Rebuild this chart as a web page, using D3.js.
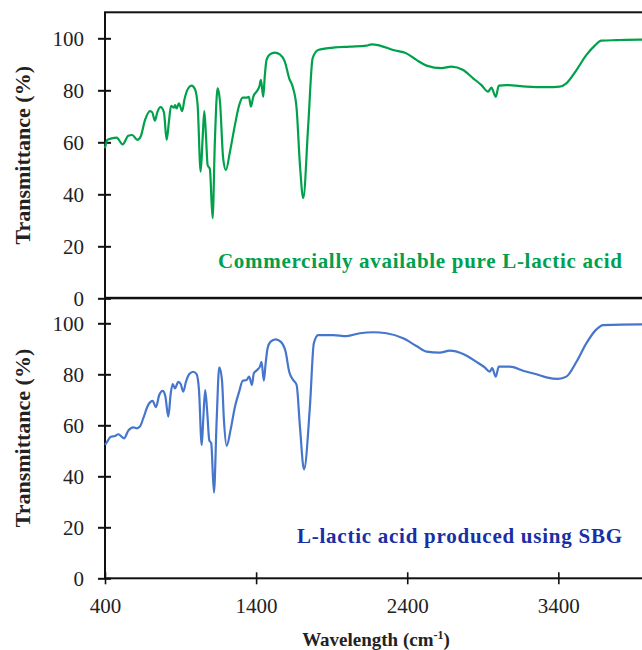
<!DOCTYPE html>
<html>
<head>
<meta charset="utf-8">
<script src="https://cdn.jsdelivr.net/npm/d3@7"></script>
<style>
body { margin: 0; background: #fff; }
svg { display: block; font-family: "Liberation Serif", "Times New Roman", serif; }
</style>
</head>
<body>
<svg width="642" height="650"></svg>
<script>
// FTIR spectra, wavenumber (cm-1) vs transmittance (%)
var wnTop = [400, 415, 444, 477, 517, 554, 580, 614, 636, 665, 698, 713, 730, 746, 768, 790, 808, 823, 837, 856, 863, 874, 889, 911, 925, 951, 973, 995, 1013, 1033, 1046, 1057, 1068, 1079, 1094, 1112, 1127, 1145, 1161, 1182, 1200, 1227, 1260, 1288, 1311, 1337, 1352, 1366, 1381, 1403, 1421, 1432, 1447, 1458, 1469, 1491, 1524, 1557, 1590, 1619, 1645, 1668, 1690, 1712, 1745, 1774, 1811, 1910, 2020, 2131, 2164, 2219, 2307, 2395, 2461, 2528, 2627, 2693, 2770, 2836, 2891, 2935, 2957, 2986, 3006, 3057, 3189, 3321, 3409, 3453, 3520, 3586, 3641, 3685, 3784, 3938, 4000]
var tTop = [57.7, 60.9, 61.5, 61.8, 59.2, 62.5, 62.8, 60.9, 62.2, 68.6, 72, 71.5, 68.3, 71.5, 73.5, 71.5, 60.9, 67.9, 74, 73.3, 74.3, 73, 75, 72, 76.3, 80.8, 81.8, 80.5, 74.3, 48.7, 61.5, 72, 62.8, 51.3, 49.7, 30.8, 60.2, 80.8, 75.6, 53.8, 49.3, 56.4, 66.7, 74.3, 77.2, 77.2, 77.5, 73.7, 77.5, 79.5, 81.4, 84, 77.5, 85.9, 91.7, 93.8, 94.5, 93.8, 91, 84.6, 80.8, 73, 51.3, 38.5, 66.7, 92.3, 95.5, 96.4, 96.8, 97.2, 97.7, 97.2, 95.5, 94.2, 91.7, 89.5, 88.5, 89.1, 87.8, 84.6, 82, 79.5, 81, 77.5, 81.8, 82, 81.4, 81.2, 81.4, 82.7, 87.8, 93.6, 97.2, 99.1, 99.3, 99.5, 99.5]

var wnBottom = [400, 415, 438, 466, 488, 526, 554, 587, 610, 631, 653, 686, 715, 737, 759, 782, 799, 819, 835, 848, 863, 885, 901, 918, 936, 958, 984, 1006, 1022, 1040, 1050, 1063, 1077, 1090, 1103, 1121, 1139, 1156, 1174, 1187, 1205, 1231, 1260, 1288, 1311, 1337, 1354, 1372, 1385, 1407, 1425, 1436, 1451, 1463, 1476, 1496, 1529, 1562, 1595, 1619, 1645, 1668, 1690, 1717, 1756, 1782, 1811, 1910, 1998, 2087, 2175, 2263, 2373, 2461, 2528, 2616, 2682, 2770, 2858, 2913, 2946, 2962, 2986, 3006, 3079, 3167, 3255, 3321, 3398, 3453, 3520, 3586, 3652, 3696, 3938, 4000]
var tBottom = [52.3, 53.6, 55.5, 55.8, 56.5, 54.9, 57.9, 59.2, 58.8, 59.5, 62.7, 68, 69.6, 67.1, 71.9, 73.5, 71.5, 63.4, 72.5, 76.2, 74.5, 77, 76.2, 73.2, 77.1, 80.1, 81, 80.1, 73.8, 52.3, 62.1, 73.8, 64.7, 54.2, 52.9, 33.6, 62.1, 82.7, 77.8, 62.1, 51.9, 58.2, 67.3, 73.2, 77.5, 77.8, 79.1, 75.8, 80.4, 81.7, 83, 84.9, 77.5, 84.3, 90.2, 92.8, 93.7, 92.8, 88.9, 81, 77.8, 75.8, 59.5, 42.7, 67.3, 92.2, 95.4, 95.4, 95, 96.1, 96.5, 96.1, 94.1, 91.1, 88.9, 88.5, 89.3, 88, 84.9, 82.7, 81, 82.4, 79.1, 83, 83, 81.4, 80, 78.8, 78.2, 79.1, 84.9, 92.2, 97.6, 99.3, 99.6, 99.6]

var yTicks = [0, 20, 40, 60, 80, 100]
var xTicks = [400, 1400, 2400, 3400]

var svg = d3.select("svg")

var x = d3.scaleLinear().domain([400, 4000]).range([105, 649])

var panels = [
  {wn: wnTop, t: tTop, y0: 298.3, y1: 12.3, color: "#00a14b", label: "Commercially available pure L-lactic acid", labelColor: "#00a04e", labelY: 268, labelW: 404},
  {wn: wnBottom, t: tBottom, y0: 578.3, y1: 297.8, color: "#4576cc", label: "L-lactic acid produced using SBG", labelColor: "#1a2ea6", labelY: 543, labelW: 325}
]

panels.forEach(function(p, i){
  var y = d3.scaleLinear().domain([0, 110]).range([p.y0, p.y1])
  var g = svg.append("g")

  // frame
  g.append("rect")
    .attr("x", x(400)).attr("y", y(110))
    .attr("width", x(4000) - x(400)).attr("height", y(0) - y(110))
    .attr("fill", "none").attr("stroke", "#111").attr("stroke-width", 2)

  var yAxis = d3.axisLeft(y).tickValues(yTicks).tickSize(7).tickPadding(14)
  var yg = g.append("g").attr("transform", "translate(" + x(400) + ",0)").call(yAxis)
  yg.select(".domain").remove()
  yg.selectAll(".tick line").attr("x1", 6).attr("stroke", "#111").attr("stroke-width", 2)
  yg.selectAll(".tick text").attr("font-size", 21).attr("fill", "#222").attr("font-family", "Liberation Serif")

  if (i == 1) {
    var xAxis = d3.axisBottom(x).tickValues(xTicks).tickSize(6).tickPadding(14).tickFormat(d3.format("d"))
    var xg = g.append("g").attr("transform", "translate(0," + y(0) + ")").call(xAxis)
    xg.select(".domain").remove()
    xg.selectAll(".tick line").attr("y1", -6).attr("stroke", "#111").attr("stroke-width", 1.6)
    xg.selectAll(".tick text").attr("font-size", 21).attr("fill", "#222").attr("font-family", "Liberation Serif")
  }

  var line = d3.line()
    .x(function(d, k){ return x(p.wn[k]) })
    .y(function(d){ return y(d) })
    .curve(d3.curveMonotoneX)

  g.append("path")
    .datum(p.t)
    .attr("d", line)
    .attr("fill", "none")
    .attr("stroke", p.color)
    .attr("stroke-width", 2.2)

  // y title
  g.append("text")
    .attr("transform", "translate(30," + ((p.y0 + p.y1) / 2) + ") rotate(-90)")
    .attr("text-anchor", "middle")
    .attr("font-size", 22).attr("font-weight", "bold").attr("fill", "#222")
    .text("Transmittance (%)")

  // sample label
  g.append("text")
    .attr("x", 622 - p.labelW).attr("y", p.labelY)
    .attr("textLength", p.labelW).attr("lengthAdjust", "spacing")
    .attr("font-size", 21).attr("font-weight", "bold").attr("fill", p.labelColor)
    .text(p.label)
})

var xt = svg.append("text")
  .attr("x", 376).attr("y", 646)
  .attr("text-anchor", "middle")
  .attr("font-size", 19).attr("font-weight", "bold").attr("fill", "#222")
xt.append("tspan").text("Wavelength (cm")
xt.append("tspan").attr("font-size", 12).attr("dy", -7).text("-1")
xt.append("tspan").attr("dy", 7).text(")")
</script>
</body>
</html>
